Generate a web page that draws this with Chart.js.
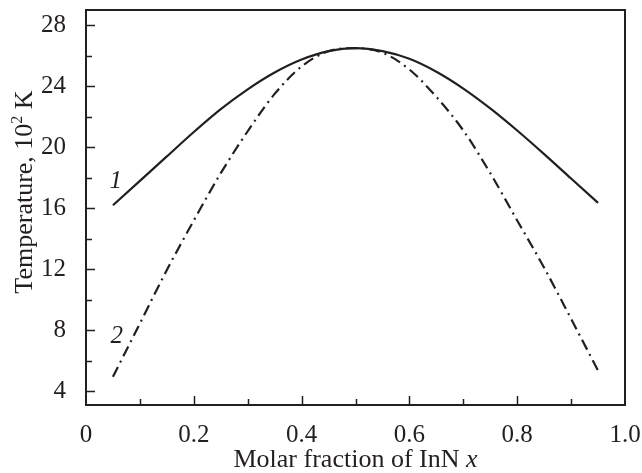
<!DOCTYPE html>
<html>
<head>
<meta charset="utf-8">
<script src="https://cdn.jsdelivr.net/npm/chart.js@4"></script>
<style>
  html, body { margin: 0; padding: 0; background: #fff; }
  #wrap { width: 642px; height: 473px; }
</style>
</head>
<body>
<div id="wrap"><canvas id="myChart" width="642" height="473"></canvas></div>
<script>
// molar fraction of InN
const xs = [0.05, 0.1, 0.15, 0.2, 0.25, 0.3, 0.35, 0.4, 0.45, 0.5, 0.55, 0.6, 0.65, 0.7, 0.75, 0.8, 0.85, 0.9, 0.95]
// curve 1 (solid), 10^2 K
const curve1 = [16.2, 17.8, 19.4, 21.0, 22.5, 23.8, 24.9, 25.75, 26.3, 26.5, 26.3, 25.8, 24.95, 23.85, 22.55, 21.1, 19.55, 17.95, 16.35]
// curve 2 (dash-dot)
const curve2 = [4.95, 8.45, 11.95, 15.2, 18.3, 21.05, 23.5, 25.3, 26.3, 26.5, 26.2, 25.1, 23.3, 21.1, 18.3, 15.2, 12.1, 8.75, 5.35]
const yTicks = [4, 8, 12, 16, 20, 24, 28]
const xTicks = [0, 0.2, 0.4, 0.6, 0.8, 1.0]

const ink = '#231f20'
const serif = "'Liberation Serif', 'Times New Roman', serif"

function pts(ys) {
    return xs.map((x, i) => ({ x: x, y: ys[i] }))
}

function noPad(scale) {
    scale.paddingTop = 0
    scale.paddingBottom = 0
    scale.paddingLeft = 0
    scale.paddingRight = 0
}

// box frame, inward ticks, axis titles and curve numbers
const frame = {
    id: 'frame',
    afterDraw(chart) {
        const ctx = chart.ctx
        const a = chart.chartArea
        const sx = chart.scales.x
        const sy = chart.scales.y
        ctx.save()
        ctx.strokeStyle = ink
        ctx.lineWidth = 2
        ctx.strokeRect(a.left, a.top, a.right - a.left, a.bottom - a.top)
        ctx.lineWidth = 1.5
        ctx.beginPath()
        for (let v = 4; v <= 28; v += 2) {
            const p = Math.round(sy.getPixelForValue(v)) + 0.5
            const len = v % 4 === 0 ? 9 : 6
            ctx.moveTo(a.left, p); ctx.lineTo(a.left + len, p)
        }
        for (let i = 1; i < 10; i++) {
            const p = Math.round(sx.getPixelForValue(i / 10)) + 0.5
            const len = i % 2 === 0 ? 9 : 6
            ctx.moveTo(p, a.bottom); ctx.lineTo(p, a.bottom - len)
        }
        ctx.stroke()

        ctx.fillStyle = ink
        ctx.textBaseline = 'alphabetic'

        // x title, with italic x
        const f = "26px " + serif
        const fi = "italic 26px " + serif
        const t1 = 'Molar fraction of InN '
        ctx.font = f
        const w1 = ctx.measureText(t1).width
        ctx.font = fi
        const w2 = ctx.measureText('x').width
        let x0 = (a.left + a.right) / 2 - (w1 + w2) / 2
        ctx.textAlign = 'left'
        ctx.font = f
        ctx.fillText(t1, x0, 467)
        ctx.font = fi
        ctx.fillText('x', x0 + w1, 467)

        // y title, with superscript 2
        ctx.save()
        ctx.translate(32, 192)
        ctx.rotate(-Math.PI / 2)
        const s1 = 'Temperature, 10'
        const s3 = ' K'
        ctx.font = f
        const u1 = ctx.measureText(s1).width
        const u3 = ctx.measureText(s3).width
        ctx.font = "16px " + serif
        const u2 = ctx.measureText('2').width
        let y0 = -(u1 + u2 + u3) / 2
        ctx.font = f
        ctx.fillText(s1, y0, 0)
        ctx.font = "16px " + serif
        ctx.fillText('2', y0 + u1, -10)
        ctx.font = f
        ctx.fillText(s3, y0 + u1 + u2, 0)
        ctx.restore()

        ctx.font = "italic 25px " + serif
        ctx.textAlign = 'center'
        ctx.textBaseline = 'middle'
        ctx.fillText('1', sx.getPixelForValue(0.055), sy.getPixelForValue(17.75))
        ctx.fillText('2', sx.getPixelForValue(0.057), sy.getPixelForValue(7.6))
        ctx.restore()
    }
}

const myChart = new Chart(document.getElementById('myChart'), {
    type: 'scatter',
    data: {
        datasets: [{
            data: pts(curve1),
            showLine: true,
            borderColor: ink,
            borderWidth: 2.2,
            pointRadius: 0,
            cubicInterpolationMode: 'monotone'
        }, {
            data: pts(curve2),
            showLine: true,
            borderColor: ink,
            borderWidth: 2.2,
            borderDash: [11, 5, 2, 5],
            pointRadius: 0,
            cubicInterpolationMode: 'monotone'
        }]
    },
    options: {
        responsive: false,
        animation: false,
        layout: { autoPadding: false, padding: { top: 10, right: 17, left: 0, bottom: 0 } },
        plugins: {
            legend: false,
            tooltip: { enabled: false }
        },
        scales: {
            x: {
                type: 'linear',
                min: 0,
                max: 1,
                afterBuildTicks(scale) { scale.ticks = xTicks.map(v => ({ value: v })) },
                afterFit(scale) { scale.height = 68; noPad(scale) },
                grid: { display: false },
                border: { display: false },
                ticks: {
                    color: ink,
                    padding: 7,
                    maxRotation: 0,
                    autoSkip: false,
                    font: { family: serif, size: 25 },
                    callback: v => v === 0 ? '0' : v.toFixed(1)
                }
            },
            y: {
                type: 'linear',
                min: 3.1,
                max: 29,
                afterBuildTicks(scale) { scale.ticks = yTicks.map(v => ({ value: v })) },
                afterFit(scale) { scale.width = 86; noPad(scale) },
                grid: { display: false },
                border: { display: false },
                ticks: {
                    color: ink,
                    padding: 12,
                    autoSkip: false,
                    font: { family: serif, size: 25 }
                }
            }
        }
    },
    plugins: [frame]
})
</script>
</body>
</html>
